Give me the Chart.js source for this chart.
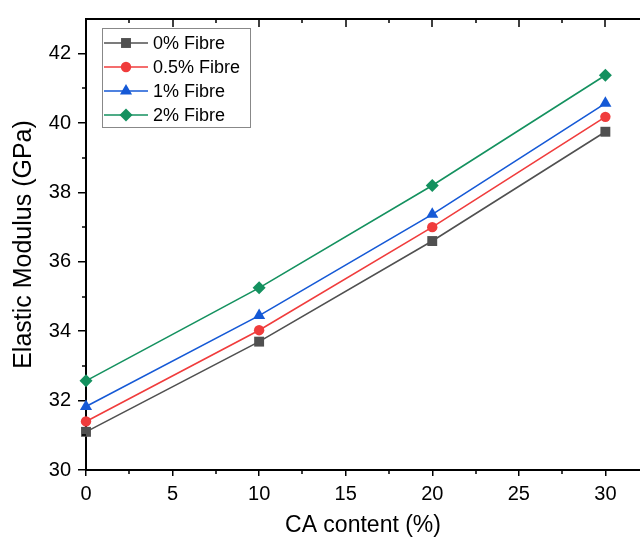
<!DOCTYPE html>
<html>
<head>
<meta charset="utf-8">
<script src="https://cdn.jsdelivr.net/npm/chart.js@4"></script>
<style>
  html, body { margin: 0; padding: 0; background: #fff; }
  canvas { display: block; }
</style>
</head>
<body>
<canvas id="chart" width="640" height="540"></canvas>
<script>
// values
const caContent = [0, 10, 20, 30];
const fibre0 = [31.1, 33.7, 36.6, 39.75];
const fibre05 = [31.4, 34.03, 37.0, 40.18];
const fibre1 = [31.83, 34.45, 37.37, 40.57];
const fibre2 = [32.57, 35.25, 38.2, 41.38];

const seriesNames = ['0% Fibre', '0.5% Fibre', '1% Fibre', '2% Fibre'];
const xTicks = [0, 5, 10, 15, 20, 25, 30];
const xMinor = [2.5, 7.5, 12.5, 17.5, 22.5, 27.5];
const yTicks = [30, 32, 34, 36, 38, 40, 42];
const yMinor = [31, 33, 35, 37, 39, 41];

const FONT = 'Liberation Sans, Arial, sans-serif';

function toPoints(ys) {
  return caContent.map((x, i) => ({ x: x, y: ys[i] }));
}

const styles = [
  { color: '#505050', marker: 'rect', radius: 7 },
  { color: '#f03c3c', marker: 'circle', radius: 5.2 },
  { color: '#1559d6', marker: 'triangle', radius: 7 },
  { color: '#14915f', marker: 'rectRot', radius: 6.5 }
];

const allSeries = [fibre0, fibre05, fibre1, fibre2];

const datasets = allSeries.map((ys, i) => ({
  label: seriesNames[i],
  data: toPoints(ys),
  borderColor: styles[i].color,
  backgroundColor: styles[i].color,
  borderWidth: 1.6,
  pointStyle: styles[i].marker,
  pointRadius: styles[i].radius,
  pointBorderWidth: 0,
  clip: false
}));

// frame on top, minor ticks and an in-plot legend like the Origin figure
const framePlugin = {
  id: 'frame',
  afterDraw(chart) {
    const { ctx, chartArea } = chart;
    const xs = chart.scales.x, ys = chart.scales.y;
    ctx.save();
    ctx.strokeStyle = '#000';
    ctx.lineWidth = 2;
    ctx.beginPath();
    ctx.moveTo(chartArea.left - 1, chartArea.top);
    ctx.lineTo(chart.width, chartArea.top);
    ctx.stroke();

    ctx.lineWidth = 1.5;
    ctx.beginPath();
    xTicks.forEach(v => {
      const px = Math.round(xs.getPixelForValue(v));
      ctx.moveTo(px, chartArea.top);
      ctx.lineTo(px, chartArea.top + 8);
    });
    xMinor.forEach(v => {
      const px = Math.round(xs.getPixelForValue(v));
      ctx.moveTo(px, chartArea.top);
      ctx.lineTo(px, chartArea.top + 4);
      ctx.moveTo(px, chartArea.bottom);
      ctx.lineTo(px, chartArea.bottom + 4);
    });
    yMinor.forEach(v => {
      const py = Math.round(ys.getPixelForValue(v));
      ctx.moveTo(chartArea.left, py);
      ctx.lineTo(chartArea.left - 4, py);
    });
    ctx.stroke();

    // legend
    const bx = 102, by = 28, bw = 148, bh = 99;
    ctx.fillStyle = '#fff';
    ctx.fillRect(bx, by, bw, bh);
    ctx.strokeStyle = '#888';
    ctx.lineWidth = 1;
    ctx.strokeRect(bx + 0.5, by + 0.5, bw, bh);
    ctx.font = '18px ' + FONT;
    ctx.textBaseline = 'middle';
    chart.data.datasets.forEach((ds, i) => {
      const cy = 43 + i * 24;
      ctx.strokeStyle = ds.borderColor;
      ctx.lineWidth = 1.6;
      ctx.beginPath();
      ctx.moveTo(104, cy);
      ctx.lineTo(148, cy);
      ctx.stroke();
      ctx.fillStyle = ds.backgroundColor;
      Chart.helpers.drawPoint(ctx, {
        pointStyle: ds.pointStyle, radius: ds.pointRadius, borderWidth: 0, rotation: 0
      }, 126, cy);
      ctx.fillStyle = '#000';
      ctx.fillText(ds.label, 153, cy + 1);
    });
    ctx.restore();
  }
};

new Chart(document.getElementById('chart').getContext('2d'), {
  type: 'line',
  data: { datasets: datasets },
  plugins: [framePlugin],
  options: {
    responsive: false,
    animation: false,
    layout: { autoPadding: false, padding: { top: 15, right: 0, left: 0, bottom: 0 } },
    plugins: { legend: { display: false }, tooltip: { enabled: false } },
    scales: {
      x: {
        type: 'linear',
        min: 0,
        max: 32,
        afterBuildTicks: s => { s.ticks = xTicks.map(v => ({ value: v })); },
        afterFit: s => { s.height = 70; s.paddingLeft = 0; s.paddingRight = 0; },
        grid: { drawOnChartArea: false, drawTicks: true, tickLength: 6, color: '#000', lineWidth: 1.5 },
        border: { display: true, color: '#000', width: 2 },
        ticks: { color: '#000', font: { family: FONT, size: 20 }, padding: 6, maxRotation: 0 },
        title: {
          display: true, text: 'CA content (%)', color: '#000',
          font: { family: FONT, size: 23 }, padding: { top: 0, bottom: 1 }
        }
      },
      y: {
        type: 'linear',
        min: 30,
        max: 43,
        afterBuildTicks: s => { s.ticks = yTicks.map(v => ({ value: v })); },
        afterFit: s => { s.width = 86; },
        grid: { drawOnChartArea: false, drawTicks: true, tickLength: 8, color: '#000', lineWidth: 1.5 },
        border: { display: true, color: '#000', width: 2 },
        ticks: { color: '#000', font: { family: FONT, size: 20 }, padding: 7 },
        title: {
          display: true, text: 'Elastic Modulus (GPa)', color: '#000',
          font: { family: FONT, size: 25 }, padding: { top: 9, bottom: 0 }
        }
      }
    }
  }
});
</script>
</body>
</html>
